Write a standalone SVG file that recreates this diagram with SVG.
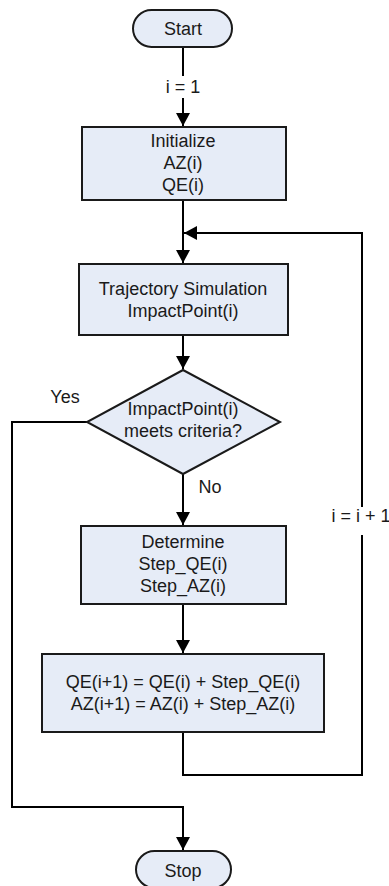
<svg xmlns="http://www.w3.org/2000/svg" width="389" height="886" viewBox="0 0 389 886">
<style>
.node{fill:#E6ECF7;stroke:#1a1a1a;stroke-width:2}
.t{font-family:"Liberation Sans",Arial,sans-serif;font-size:18px;fill:#1a1a1a;text-anchor:middle}
.c{fill:none;stroke:#000;stroke-width:2}
.bg{fill:#fff;stroke:none}
</style>
<defs>
<marker id="arr" markerUnits="userSpaceOnUse" markerWidth="14" markerHeight="14" viewBox="0 0 14 14" refX="13" refY="7" orient="auto">
<path d="M0,0 L13,7 L0,14 Z" fill="#000"/>
</marker>
</defs>
<g id="connectors">
<path class="c" d="M183,47 V126" marker-end="url(#arr)"/>
<rect class="bg" x="165" y="76" width="36" height="22"/>
<text class="t" x="183" y="93">i = 1</text>
<path class="c" d="M183,200 V263" marker-end="url(#arr)"/>
<path class="c" d="M183,335 V369" marker-end="url(#arr)"/>
<path class="c" d="M183,474 V525" marker-end="url(#arr)"/>
<text class="t" x="210" y="493">No</text>
<path class="c" d="M183,604 V653" marker-end="url(#arr)"/>
<path class="c" d="M183,732 V775 H362 V233 H184" marker-end="url(#arr)"/>
<rect class="bg" x="331" y="507" width="58" height="28"/>
<text class="t" x="361" y="522">i = i + 1</text>
<path class="c" d="M87,422 H12 V807 H183 V850" marker-end="url(#arr)"/>
<text class="t" x="65" y="403">Yes</text>
</g>
<g id="start">
<rect class="node" x="133" y="10" width="99" height="37" rx="18.5"/>
<text class="t" x="183" y="35">Start</text>
</g>
<g id="initialize">
<rect class="node" x="82" y="127" width="204" height="73"/>
<text class="t" x="183" y="147">Initialize</text>
<text class="t" x="183" y="169">AZ(i)</text>
<text class="t" x="183" y="191">QE(i)</text>
</g>
<g id="trajectory">
<rect class="node" x="79" y="264" width="209" height="71"/>
<text class="t" x="183" y="295">Trajectory Simulation</text>
<text class="t" x="183" y="317">ImpactPoint(i)</text>
</g>
<g id="decision">
<polygon class="node" points="183,370 280,422 183,474 87,422"/>
<text class="t" x="183" y="415">ImpactPoint(i)</text>
<text class="t" x="183" y="437">meets criteria?</text>
</g>
<g id="determine">
<rect class="node" x="81" y="526" width="205" height="78"/>
<text class="t" x="183" y="548">Determine</text>
<text class="t" x="183" y="570">Step_QE(i)</text>
<text class="t" x="183" y="592">Step_AZ(i)</text>
</g>
<g id="update">
<rect class="node" x="42" y="654" width="282" height="78"/>
<text class="t" x="183" y="688">QE(i+1) = QE(i) + Step_QE(i)</text>
<text class="t" x="183" y="710">AZ(i+1) = AZ(i) + Step_AZ(i)</text>
</g>
<g id="stop">
<rect class="node" x="136" y="851" width="95" height="37" rx="18.5"/>
<text class="t" x="183" y="877">Stop</text>
</g>
</svg>
